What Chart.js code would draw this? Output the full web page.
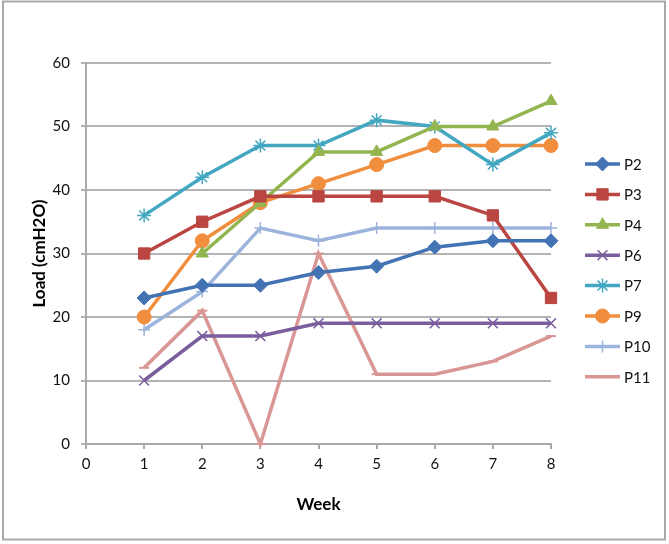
<!DOCTYPE html>
<html>
<head>
<meta charset="utf-8">
<script src="https://cdn.jsdelivr.net/npm/chart.js@4/dist/chart.umd.min.js"></script>
<style>
  html, body { margin: 0; padding: 0; background: #fff; }
  #wrap { width: 669px; height: 544px; }
</style>
</head>
<body>
<div id="wrap"><canvas id="loadChart" width="669" height="544"></canvas></div>
<script>
// semanas (eje x)
const weeks = [1, 2, 3, 4, 5, 6, 7, 8];

// series
const P2  = [23, 25, 25, 27, 28, 31, 32, 32];
const P3  = [30, 35, 39, 39, 39, 39, 36, 23];
const P4  = [null, 30, 38, 46, 46, 50, 50, 54];
const P6  = [10, 17, 17, 19, 19, 19, 19, 19];
const P7  = [36, 42, 47, 47, 51, 50, 44, 49];
const P9  = [20, 32, 38, 41, 44, 47, 47, 47];
const P10 = [18, 24, 34, 32, 34, 34, 34, 34];
const P11 = [12, 21, 0, 30, 11, 11, 13, 17];

const yTicks = [0, 10, 20, 30, 40, 50, 60];
const xTicks = [0, 1, 2, 3, 4, 5, 6, 7, 8];

const FONT = 'Lato, "Open Sans", sans-serif';

function puntos(valores) {
    return weeks.map((w, i) => ({ x: w, y: valores[i] }));
}

function serie(label, valores, color, estilo, radio, bordeMarcador) {
    return {
        label: label,
        data: puntos(valores),
        borderColor: color,
        backgroundColor: color,
        borderWidth: 3.5,
        pointStyle: estilo,
        pointRadius: radio,
        pointHoverRadius: radio,
        pointBackgroundColor: color,
        pointBorderColor: color,
        pointBorderWidth: bordeMarcador,
        tension: 0,
        spanGaps: false,
        clip: false
    };
}

const datasets = [
    serie('P2', P2, '#4473B4', 'rectRot', 7, 1),
    serie('P3', P3, '#BA4541', 'rect', 8, 1),
    serie('P4', P4, '#93B550', 'triangle', 7, 1),
    serie('P6', P6, '#7B5E9E', 'crossRot', 7, 1.5),
    serie('P7', P7, '#44A7C1', 'star', 7, 1.5),
    serie('P9', P9, '#F08E3E', 'circle', 7, 1),
    serie('P10', P10, '#9CB3DC', 'cross', 6, 1.5),
    serie('P11', P11, '#D89694', 'line', 5, 2)
];

// marco gris alrededor del gráfico
const marco = {
    id: 'marco',
    beforeDraw(chart) {
        const ctx = chart.ctx;
        ctx.save();
        ctx.fillStyle = '#ffffff';
        ctx.fillRect(0, 0, chart.width, chart.height);
        ctx.strokeStyle = '#a9a9a9';
        ctx.lineWidth = 2;
        ctx.strokeRect(3, 1.5, 662, 538);
        ctx.restore();
    }
};

// leyenda a la derecha, línea + marcador como en Excel
const leyenda = {
    id: 'leyenda',
    afterDraw(chart) {
        const ctx = chart.ctx;
        const x0 = 585, x1 = 620, y0 = 164, paso = 30.4;
        ctx.save();
        chart.data.datasets.forEach((ds, i) => {
            const y = y0 + i * paso;
            ctx.strokeStyle = ds.borderColor;
            ctx.lineWidth = ds.borderWidth;
            ctx.beginPath();
            ctx.moveTo(x0, y);
            ctx.lineTo(x1, y);
            ctx.stroke();
            if (ds.pointStyle !== 'line') {
                ctx.fillStyle = ds.pointBackgroundColor;
                ctx.strokeStyle = ds.pointBorderColor;
                ctx.lineWidth = ds.pointBorderWidth;
                Chart.helpers.drawPoint(ctx, {
                    pointStyle: ds.pointStyle,
                    radius: ds.pointRadius,
                    rotation: 0,
                    borderWidth: ds.pointBorderWidth
                }, (x0 + x1) / 2, y);
            }
            ctx.fillStyle = '#111';
            ctx.font = '15px ' + FONT;
            ctx.textAlign = 'left';
            ctx.textBaseline = 'middle';
            ctx.fillText(ds.label, 624, y + 1);
        });
        ctx.restore();
    }
};

const ctx = document.getElementById('loadChart').getContext('2d');

new Chart(ctx, {
    type: 'line',
    data: { datasets: datasets },
    options: {
        responsive: false,
        animation: false,
        events: [],
        layout: { padding: { top: 63, right: 118, left: 0, bottom: 0 } },
        plugins: {
            legend: { display: false },
            tooltip: { enabled: false }
        },
        scales: {
            x: {
                type: 'linear',
                min: 0,
                max: 8,
                afterFit(scale) { scale.height = 100; },
                afterBuildTicks(scale) { scale.ticks = xTicks.map(v => ({ value: v })); },
                grid: {
                    drawOnChartArea: false,
                    drawTicks: true,
                    tickLength: 5,
                    color: '#a9a9a9',
                    lineWidth: 2
                },
                border: { color: '#a9a9a9', width: 2 },
                ticks: {
                    color: '#111',
                    font: { family: FONT, size: 15 },
                    padding: 6
                },
                title: {
                    display: true,
                    text: 'Week',
                    color: '#000',
                    font: { family: FONT, size: 17, weight: 'bold' },
                    padding: { top: 0, bottom: 29 }
                }
            },
            y: {
                min: 0,
                max: 60,
                afterFit(scale) { scale.width = 86; },
                afterBuildTicks(scale) { scale.ticks = yTicks.map(v => ({ value: v })); },
                grid: {
                    drawTicks: true,
                    tickLength: 5,
                    color: '#b3b3b3',
                    lineWidth: 2
                },
                border: { color: '#a9a9a9', width: 2 },
                ticks: {
                    color: '#111',
                    font: { family: FONT, size: 15 },
                    padding: 11
                },
                title: {
                    display: true,
                    text: 'Load (cmH2O)',
                    color: '#000',
                    font: { family: FONT, size: 17, weight: 'bold' },
                    padding: { top: 29, bottom: 0 }
                }
            }
        }
    },
    plugins: [marco, leyenda]
});
</script>
</body>
</html>
